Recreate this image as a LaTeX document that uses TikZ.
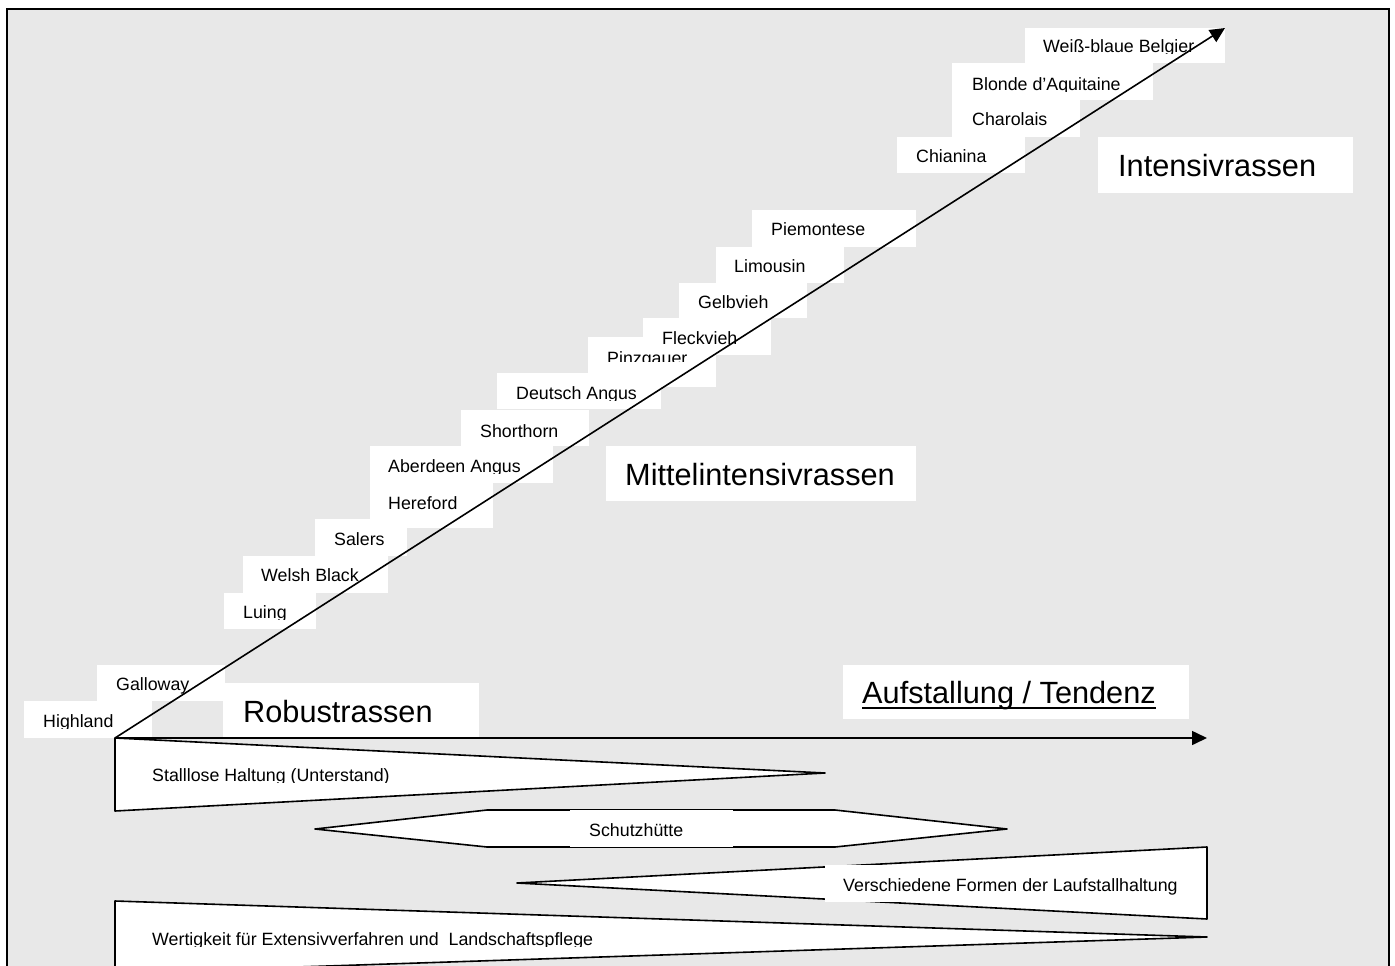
\documentclass[tikz,border=0pt]{standalone}
\usepackage{fontspec}
\setmainfont{Liberation Sans}
\usetikzlibrary{arrows.meta}
\definecolor{bg}{RGB}{232,232,232}
\tikzset{
  lbl/.style={inner sep=0pt, anchor=base west, font=\fontsize{17.8}{20}\selectfont},
  big/.style={inner sep=0pt, anchor=base west, font=\fontsize{30.7}{34}\selectfont},
  arr/.style={line width=1.6pt, -{Triangle[length=15pt,width=14pt]}},
  band/.style={draw=black, fill=white, line width=1.6pt, line join=round},
  cover/.style={fill=white},
}
\begin{document}
\begin{tikzpicture}[x=1pt,y=-1pt]
\clip (0,0) rectangle (1395,966);
\fill[white] (0,0) rectangle (1395,966);
\draw[fill=bg, line width=2.5pt] (7,9) rectangle (1389,1000);

% white label boxes
\fill[white] (24,701) rectangle (152,738);
\fill[white] (97,665) rectangle (225,701);
\fill[white] (223,683) rectangle (479,737);
\fill[white] (224,593) rectangle (316,629);
\fill[white] (243,556) rectangle (388,593);
\fill[white] (370,483) rectangle (493,528);
\fill[white] (315,519) rectangle (407,556);
\fill[white] (370,446) rectangle (553,483);
\fill[white] (461,410) rectangle (589,446);
\fill[white] (497,373) rectangle (661,409);
\fill[white] (588,337) rectangle (716,387);
\fill[white] (643,318) rectangle (771,355);
\fill[white] (679,283) rectangle (807,318);
\fill[white] (716,247) rectangle (844,283);
\fill[white] (752,210) rectangle (916,247);
\fill[white] (897,137) rectangle (1025,173);
\fill[white] (952,100) rectangle (1080,137);
\fill[white] (952,63) rectangle (1153,100);
\fill[white] (1025,28) rectangle (1225,63);
\fill[white] (1098,137) rectangle (1353,193);
\fill[white] (606,446) rectangle (916,501);
\fill[white] (843,665) rectangle (1189,719);

% bands
\draw[band] (115,738) -- (825,773) -- (115,811) -- cycle;
\draw[band] (315,829) -- (487,810) -- (835,810) -- (1007,829) -- (835,847) -- (487,847) -- cycle;
\draw[band] (517,883) -- (1207,847) -- (1207,919) -- cycle;
\draw[band] (115,901) -- (1207,937) -- (115,973) -- cycle;
\fill[white] (570,810.3) rectangle (733,846.7);
\fill[white] (825,865) rectangle (1206,902);

% labels
\node[lbl] (highland) at (43,727) {Highland};
\node[lbl] (galloway) at (116,690) {Galloway};
\node[lbl] (luing) at (243,618) {Luing};
\node[lbl] (welsh) at (261,581) {Welsh Black};
\node[lbl] (salers) at (334,545) {Salers};
\node[lbl] (hereford) at (388,509) {Hereford};
\node[lbl] (aberdeen) at (388,472) {Aberdeen Angus};
\node[lbl] (shorthorn) at (480,437) {Shorthorn};
\node[lbl] (deutsch) at (516,399) {Deutsch Angus};
\node[lbl] (pinz) at (607,364) {Pinzgauer};
\node[lbl] (fleck) at (662,344) {Fleckvieh};
\node[lbl] (gelb) at (698,308) {Gelbvieh};
\node[lbl] (limo) at (734,272) {Limousin};
\node[lbl] (piem) at (771,235) {Piemontese};
\node[lbl] (chian) at (916,162) {Chianina};
\node[lbl] (charo) at (972,125) {Charolais};
\node[lbl] (blonde) at (972,90) {Blonde d’Aquitaine};
\node[lbl] (belg) at (1043,53) {Weiß-blaue Belgier};
\node[big] (intens) at (1118,176) {Intensivrassen};
\node[big] (mittel) at (625,485) {Mittelintensivrassen};
\node[big] (robust) at (243,722) {Robustrassen};
\node[big] (aufst) at (862,703) {Aufstallung / Tendenz};
\draw[line width=2pt] ([yshift=-4.5pt]aufst.base west) -- ([yshift=-4.5pt]aufst.base east);
\node[lbl] (stall) at (152,781) {Stalllose Haltung (Unterstand)};
\node[lbl] (schutz) at (589,836) {Schutzhütte};
\node[lbl] (lauf) at (843,891) {Verschiedene Formen der Laufstallhaltung};
\node[lbl] (wert) at (152,945) {Wertigkeit für Extensivverfahren und\ \ Landschaftspflege};

% clipped descenders
\foreach \n in {highland,luing,aberdeen,deutsch,belg,blonde,stall,wert}
  \fill[cover] ([yshift=-1.5pt]\n.base west) rectangle ([yshift=-7pt]\n.base east);
\fill[cover] ([yshift=2pt]pinz.base west) rectangle ([yshift=-6pt]pinz.base east);

% axes
\coordinate (O) at (115,738);
\coordinate (tipD) at (1225,28);
\coordinate (tipH) at (1207,738);
\draw[arr] (O) -- (tipD);
\draw[arr] (O) -- (tipH);
\end{tikzpicture}
\end{document}
